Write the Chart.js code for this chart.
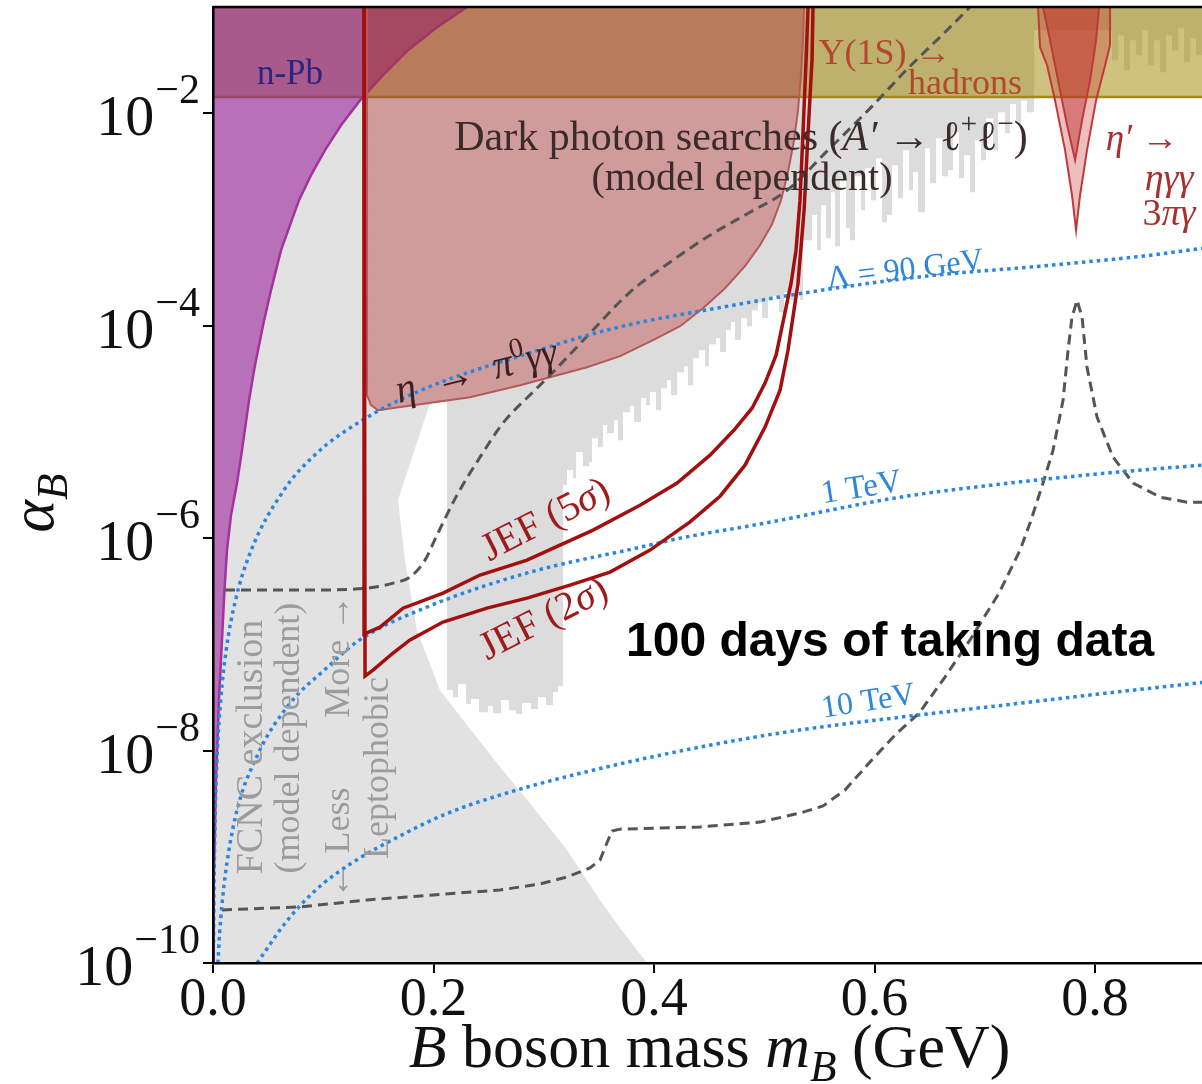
<!DOCTYPE html>
<html>
<head>
<meta charset="utf-8">
<title>B boson coupling limits</title>
<script src="https://cdn.jsdelivr.net/npm/chart.js@4.4.1/dist/chart.umd.min.js"></script>
<style>
  html, body { margin: 0; padding: 0; background: #fff; }
  canvas { display: block; }
</style>
</head>
<body>
<canvas id="plot" width="1202" height="1084"></canvas>
<script>
const SERIF = '"Liberation Serif", "DejaVu Serif", serif';
const SANS = '"Liberation Sans", Arial, sans-serif';

// axis ticks
const massTicks = [0, 0.2, 0.4, 0.6, 0.8];
const couplingTicks = [1e-10, 1e-8, 1e-6, 1e-4, 1e-2];

// n-Pb scattering: edge of the excluded region, [m_B (GeV), alpha_B]
const nPbEdge = [
  [0, 1e-10], [0.00045, 2.04e-10], [0.0009, 6.04e-10], [0.0018, 1.79e-9], [0.0027, 5.27e-9],
  [0.0041, 1.26e-8], [0.0054, 2.99e-8], [0.0077, 8.83e-8], [0.0104, 3.24e-7], [0.0127, 7.71e-7],
  [0.0163, 1.64e-6], [0.0218, 3.3e-6], [0.0263, 6.73e-6], [0.0327, 1.99e-5], [0.0381, 4.25e-5],
  [0.0454, 1.01e-4], [0.0526, 2.16e-4], [0.0617, 5.14e-4], [0.078, 1.52e-3], [0.0889, 2.61e-3],
  [0.1016, 4.49e-3], [0.1161, 7.71e-3], [0.1333, 1.32e-2], [0.1542, 2.28e-2], [0.1769, 3.92e-2],
  [0.2032, 6.44e-2], [0.2304, 0.1]
];

// FCNC exclusion (grey): right-hand boundary, from under eta -> pi0 gamma gamma down to the axis
const fcncEdge = [
  [0.1397, 1.32e-2], [0.1397, 2.22e-5], [0.1433, 1.79e-5], [0.1497, 1.6e-5], [0.1878, 1.82e-5],
  [0.1968, 1.87e-5], [0.1678, 2.28e-6], [0.1741, 6.2e-7], [0.185, 1.36e-7], [0.2059, 3.7e-8],
  [0.2304, 1.74e-8], [0.2603, 7.0e-9], [0.2902, 2.94e-9], [0.3211, 1.16e-9], [0.351, 3.9e-10],
  [0.3737, 1.84e-10], [0.3937, 1e-10]
];

// eta -> pi0 gamma gamma (dark photon searches, model dependent)
const etaPi0Region = [
  [0.1397, 0.1], [0.1397, 2.22e-5], [0.1433, 1.79e-5], [0.1497, 1.6e-5], [0.1878, 1.82e-5],
  [0.2331, 2.12e-5], [0.2785, 2.75e-5], [0.3392, 4.06e-5], [0.3692, 5.16e-5], [0.3991, 7.3e-5],
  [0.4236, 9.89e-5], [0.4444, 1.46e-4], [0.4644, 2.25e-4], [0.4825, 3.63e-4], [0.4961, 5.73e-4],
  [0.507, 9.02e-4], [0.5152, 1.52e-3], [0.5215, 2.79e-3], [0.527, 5.57e-3], [0.5306, 1.07e-2],
  [0.5333, 2.28e-2], [0.5351, 4.86e-2], [0.5361, 0.1]
];

// recast lepton searches (grey streaks): [left edge of streak, lower alpha_B]
const leptonStreaks = [
  [0.2122, 3.71e-8], [0.2177, 3.18e-8], [0.2222, 4.23e-8], [0.2295, 2.74e-8], [0.234, 3.05e-8],
  [0.2413, 2.3e-8], [0.2494, 2.62e-8], [0.254, 2.25e-8], [0.2612, 2.99e-8], [0.2685, 2.4e-8],
  [0.2748, 2.21e-8], [0.2803, 2.8e-8], [0.2884, 2.46e-8], [0.2948, 3.18e-8], [0.302, 2.68e-8],
  [0.3084, 3.56e-8], [0.3129, 4.05e-8],
  [0.3175, 3.16e-6], [0.3211, 4.37e-6], [0.3265, 3.67e-6], [0.3293, 6.45e-6], [0.3356, 4.76e-6],
  [0.341, 5.19e-6], [0.3438, 8.73e-6], [0.3492, 7.18e-6], [0.3537, 1.16e-5], [0.3574, 9.73e-6],
  [0.3637, 1.29e-5], [0.3673, 8.36e-6], [0.3719, 1.53e-5], [0.3782, 1.75e-5], [0.3819, 1.24e-5],
  [0.3882, 2.08e-5], [0.3927, 1.79e-5], [0.3964, 2.37e-5], [0.4018, 1.6e-5], [0.4063, 2.58e-5],
  [0.4118, 3.07e-5], [0.4154, 2.22e-5], [0.4209, 3.65e-5], [0.4272, 4.16e-5], [0.4308, 2.75e-5],
  [0.4354, 4.94e-5], [0.4408, 5.87e-5], [0.4463, 4.16e-5], [0.4499, 6.7e-5], [0.4562, 7.62e-5],
  [0.4599, 5.64e-5], [0.4653, 9.08e-5], [0.4698, 1.08e-4], [0.4735, 7.31e-5], [0.4789, 1.18e-4],
  [0.4844, 9.89e-5], [0.4889, 1.4e-4], [0.4943, 1.66e-4], [0.498, 1.18e-4], [0.5034, 1.74e-4],
  [0.5079, 1.9e-4], [0.5134, 1.34e-4], [0.5179, 2.07e-4], [0.5234, 1.74e-4], [0.5279, 2.4e-4],
  [0.5324, 1.74e-4], [0.5351, 6.38e-4],
  [0.5433, 1.1e-3], [0.5479, 5.14e-4], [0.5515, 1.36e-3], [0.556, 6.67e-4], [0.5605, 1.8e-3],
  [0.5642, 5.6e-4], [0.5687, 2.34e-3], [0.5741, 8.28e-4], [0.5778, 6.38e-4], [0.5823, 2.55e-3],
  [0.5878, 1.22e-3], [0.5914, 3.04e-3], [0.5968, 1.52e-3], [0.6014, 3.77e-3], [0.6068, 9.42e-4],
  [0.6113, 1.1e-3], [0.6159, 3.24e-3], [0.6213, 1.58e-3], [0.6259, 4.49e-3], [0.6313, 1.88e-3],
  [0.6349, 2.79e-3], [0.6395, 1.17e-3], [0.6458, 4.69e-3], [0.6503, 2.19e-3], [0.6558, 5.82e-3],
  [0.6612, 2.55e-3], [0.6667, 2.91e-3], [0.6712, 6.62e-3], [0.6766, 2.44e-3], [0.6812, 4.03e-3],
  [0.6866, 1.8e-3], [0.6912, 5.57e-3], [0.6966, 3.61e-3], [0.7011, 8.97e-3], [0.7075, 4.49e-3],
  [0.712, 1.02e-2], [0.7184, 6.49e-3], [0.7229, 1.22e-2], [0.7283, 7.87e-3], [0.7329, 1.32e-2],
  [0.7383, 1.02e-2], [0.7447, 6.04e-2],
  [0.8154, 3.16e-2], [0.8209, 5.42e-2], [0.8263, 2.54e-2], [0.8317, 4.86e-2], [0.8372, 3.52e-2],
  [0.8426, 6.04e-2], [0.8481, 2.83e-2], [0.8535, 4.86e-2], [0.859, 2.43e-2], [0.8644, 5.42e-2],
  [0.8698, 3.92e-2], [0.8753, 6.31e-2], [0.8807, 3.02e-2], [0.8862, 5.08e-2], [0.8916, 3.52e-2]
];

// Upsilon(1S) -> hadrons bound
const upsilonLimit = 1.42e-2;

// eta' -> eta gamma gamma, 3 pi gamma
const etaPrimeOuter = [
  [0.7483, 0.1], [0.7501, 4.18e-2], [0.7565, 2.83e-2], [0.7637, 1.32e-2], [0.7728, 4.49e-3],
  [0.7791, 1.69e-3], [0.7828, 7.92e-4], [0.7864, 1.69e-3], [0.7927, 4.49e-3], [0.8009, 1.32e-2],
  [0.8091, 2.83e-2], [0.8136, 4.37e-2], [0.8136, 0.1]
];
const etaPrimeInner = [
  [0.7528, 0.1], [0.7592, 4.86e-2], [0.7664, 2.05e-2], [0.7737, 8.59e-3], [0.7819, 3.61e-3],
  [0.7882, 8.59e-3], [0.7955, 2.05e-2], [0.8009, 4.86e-2], [0.8036, 0.1]
];

// JEF projected reach
const jef5sigma = [
  [0.137, 0.1], [0.137, 1.25e-7], [0.1515, 1.45e-7], [0.1723, 2.19e-7], [0.2086, 3.03e-7],
  [0.2422, 4.49e-7], [0.2848, 6.21e-7], [0.3147, 8.59e-7], [0.3447, 1.19e-6], [0.3873, 2.04e-6],
  [0.4209, 3.3e-6], [0.4508, 6.04e-6], [0.4726, 1.04e-5], [0.4889, 1.67e-5], [0.5007, 2.88e-5],
  [0.5107, 5.27e-5], [0.5179, 1.2e-4], [0.5243, 2.51e-4], [0.5288, 5.14e-4], [0.5324, 1.52e-3],
  [0.5351, 6.49e-3], [0.5379, 3.16e-2], [0.5397, 0.1]
];
const jef2sigma = [
  [0.137, 0.1], [0.1379, 5.02e-8], [0.1451, 5.71e-8], [0.1633, 8.28e-8], [0.1787, 1.1e-7],
  [0.2086, 1.62e-7], [0.2485, 2.19e-7], [0.2848, 2.72e-7], [0.3238, 3.61e-7], [0.3601, 4.79e-7],
  [0.3964, 7.71e-7], [0.4327, 1.42e-6], [0.4599, 2.48e-6], [0.4825, 4.86e-6], [0.5007, 1.11e-5],
  [0.5143, 2.47e-5], [0.5215, 5.87e-5], [0.5306, 2.51e-4], [0.5361, 1.22e-3], [0.5397, 6.49e-3],
  [0.5433, 3.16e-2], [0.5442, 0.1]
];

// FCNC bounds for more / less leptophobic couplings (dashed)
const fcncMore = [
  [0.0109, 3.24e-7], [0.0789, 3.24e-7], [0.1397, 3.38e-7], [0.1633, 3.77e-7], [0.1787, 4.3e-7],
  [0.1923, 6.21e-7], [0.2032, 1.07e-6], [0.2213, 2.54e-6], [0.2422, 5.78e-6], [0.263, 1.21e-5],
  [0.2902, 2.37e-5], [0.3057, 3.42e-5], [0.3419, 8.49e-5], [0.3782, 2.07e-4], [0.4145, 3.96e-4],
  [0.4508, 7.11e-4], [0.4871, 1.17e-3], [0.5206, 1.88e-3], [0.5596, 4.69e-3], [0.5959, 1.11e-2],
  [0.6322, 2.77e-2], [0.6639, 5.78e-2], [0.6866, 0.1]
];
const fcncLess = [
  [0.0082, 3.16e-10], [0.0789, 3.37e-10], [0.1397, 3.92e-10], [0.1995, 4.37e-10], [0.2603, 4.87e-10],
  [0.2966, 5.54e-10], [0.3211, 6.45e-10], [0.3419, 7.84e-10], [0.351, 9.31e-10], [0.3565, 1.29e-9],
  [0.3619, 1.75e-9], [0.3691, 1.82e-9], [0.4417, 1.91e-9], [0.4962, 2.12e-9], [0.5324, 2.58e-9],
  [0.5533, 3.01e-9], [0.5732, 4.25e-9], [0.595, 7.62e-9], [0.6186, 1.4e-8], [0.6404, 2.25e-8],
  [0.6639, 4.92e-8], [0.6866, 1.1e-7], [0.7129, 3.03e-7], [0.732, 7.71e-7], [0.741, 1.38e-6],
  [0.7528, 3.3e-6], [0.7619, 6.73e-6], [0.771, 1.99e-5], [0.7755, 5.87e-5], [0.7791, 1.2e-4],
  [0.7837, 1.74e-4], [0.7882, 1.2e-4], [0.7927, 4.06e-5], [0.8018, 1.38e-5], [0.8163, 5.78e-6],
  [0.8345, 3.3e-6], [0.859, 2.43e-6], [0.8834, 2.18e-6], [0.897, 2.18e-6]
];

// anomaly cutoff Lambda (dotted)
const lambda90GeV = [
  [0.0005, 1.55e-10], [0.001, 6.2e-10], [0.002, 2.5e-9], [0.004, 1.0e-8], [0.007, 3.0e-8],
  [0.012, 8.9e-8], [0.02, 2.5e-7], [0.034, 7.4e-7], [0.064, 2.8e-6], [0.094, 6.3e-6],
  [0.134, 1.26e-5], [0.188, 2.45e-5], [0.28, 5.25e-5], [0.37, 9.8e-5], [0.46, 1.48e-4],
  [0.55, 2.14e-4], [0.65, 2.95e-4], [0.75, 3.63e-4], [0.85, 4.6e-4], [0.9, 5.4e-4]
];
const lambda1TeV = [
  [0.0045, 1.0e-10], [0.006, 1.9e-10], [0.01, 5.4e-10], [0.02, 2.3e-9], [0.04, 8.9e-9],
  [0.07, 2.8e-8], [0.1, 5.6e-8], [0.133, 1.1e-7], [0.194, 2.24e-7], [0.285, 4.7e-7],
  [0.385, 8.1e-7], [0.424, 1.0e-6], [0.5, 1.38e-6], [0.62, 2.4e-6], [0.7, 3.1e-6],
  [0.8, 4.0e-6], [0.9, 4.9e-6]
];
const lambda10TeV = [
  [0.04, 1.0e-10], [0.05, 1.41e-10], [0.06, 2.0e-10], [0.079, 3.47e-10], [0.1, 5.6e-10],
  [0.13, 9.3e-10], [0.17, 1.58e-9], [0.21, 2.5e-9], [0.26, 3.8e-9], [0.33, 6.0e-9],
  [0.44, 1.07e-8], [0.53, 1.55e-8], [0.62, 2.04e-8], [0.72, 2.7e-8], [0.81, 3.47e-8],
  [0.9, 4.4e-8]
];

// text placed in data coordinates (centre of the text)
const notes = [
  {x: 0.0698, y: 2.43e-2, parts: [['n-Pb']], size: 35, color: '#2d2380'},
  {x: 0.6095, y: 3.75e-2, parts: [['Υ(1S) →']], size: 36, color: '#b5472f'},
  {x: 0.6821, y: 1.96e-2, parts: [['hadrons']], size: 36, color: '#b5472f'},
  {x: 0.4789, y: 6.08e-3, parts: [['Dark photon searches ('], ['A′', 'i'], [' → ℓ'], ['+', 'sup'], ['ℓ'], ['−', 'sup'], [')']], size: 42, color: '#3b2b2b'},
  {x: 0.4798, y: 2.5e-3, parts: [['(model dependent)']], size: 40, color: '#3b2b2b'},
  {x: 0.8426, y: 5.82e-3, parts: [['η′', 'i'], [' →']], size: 37, color: '#a83030'},
  {x: 0.8671, y: 2.5e-3, parts: [['ηγγ', 'i']], size: 38, color: '#a83030'},
  {x: 0.8671, y: 1.17e-3, parts: [['3'], ['πγ', 'i']], size: 38, color: '#a83030'},
  {x: 0.6277, y: 3.47e-4, parts: [['Λ = 90 GeV']], size: 32, color: '#2f86dc', rot: -7},
  {x: 0.5878, y: 3.08e-6, parts: [['1 TeV']], size: 33, color: '#2f86dc', rot: -9},
  {x: 0.5941, y: 2.99e-8, parts: [['10 TeV']], size: 32, color: '#2f86dc', rot: -9},
  {x: 0.2385, y: 3.8e-5, parts: [['η', 'i'], ['  →  '], ['π', 'i'], ['0', 'sup'], ['γγ', 'i']], size: 40, color: '#3a2020', rot: -14},
  {x: 0.3011, y: 1.54e-6, parts: [['JEF (5'], ['σ', 'i'], [')']], size: 40, color: '#9e1b1b', rot: -27},
  {x: 0.2993, y: 1.8e-7, parts: [['JEF (2'], ['σ', 'i'], [')']], size: 40, color: '#9e1b1b', rot: -27},
  {x: 0.0327, y: 1.08e-8, parts: [['FCNC exclusion']], size: 38, color: '#9c9c9c', rot: -90},
  {x: 0.0671, y: 1.31e-8, parts: [['(model dependent)']], size: 36, color: '#9c9c9c', rot: -90},
  {x: 0.1125, y: 1.35e-9, parts: [['← Less']], size: 36, color: '#9c9c9c', rot: -90},
  {x: 0.1125, y: 7.74e-8, parts: [['More →']], size: 36, color: '#9c9c9c', rot: -90},
  {x: 0.1478, y: 6.84e-9, parts: [['Leptophobic']], size: 36, color: '#9c9c9c', rot: -90},
  {x: 0.6141, y: 1.1e-7, parts: [['100 days of taking data']], size: 48, color: '#000', family: SANS, weight: 'bold'}
];

const toXY = arr => arr.map(([x, y]) => ({x, y}));

// streak outline: floor of the eta -> pi0 gamma gamma region on top, stepped lower edge
function streakOutline() {
  const floor = [[0.2122, 1.99e-5]].concat(etaPi0Region.filter(([x]) => x > 0.2122), [[0.95, 0.1]]);
  const steps = [];
  for (let i = leptonStreaks.length - 1; i >= 0; i--) {
    const [x0, a] = leptonStreaks[i];
    const x1 = i + 1 < leptonStreaks.length ? leptonStreaks[i + 1][0] : 0.95;
    steps.push([x1, a], [x0, a]);
  }
  return floor.concat(steps);
}

function region(points, fill, edge, edgeWidth, order) {
  return {
    data: toXY(points), backgroundColor: fill, borderColor: edge || 'rgba(0,0,0,0)',
    borderWidth: edgeWidth || 0, fill: 'shape', pointRadius: 0, tension: 0, order
  };
}
function curve(points, color, width, dash, order, smooth) {
  return {
    data: toXY(points), borderColor: color, borderWidth: width, borderDash: dash,
    fill: false, pointRadius: 0, tension: 0, order,
    cubicInterpolationMode: smooth ? 'monotone' : 'default'
  };
}

// rich text: parts are [text, style] with style r / i / sup / sub / isub
function layoutRich(ctx, parts, size, family, weight) {
  let width = 0;
  const runs = parts.map(([t, s = 'r']) => {
    const small = s.includes('sub') || s.includes('sup');
    const px = small ? size * 0.7 : size;
    const font = `${s.startsWith('i') ? 'italic ' : ''}${weight || ''} ${px}px ${family}`;
    ctx.font = font;
    const run = {t, font, x: width, dy: s.includes('sub') ? size * 0.22 : s.includes('sup') ? -size * 0.4 : 0};
    width += ctx.measureText(t).width;
    return run;
  });
  return {runs, width};
}
function drawRich(ctx, cx, cy, parts, opt) {
  const {size, family = SERIF, weight = '', color = '#111', rot = 0, align = 'center', middle = true} = opt;
  const {runs, width} = layoutRich(ctx, parts, size, family, weight);
  ctx.save();
  ctx.translate(cx, cy);
  ctx.rotate(rot * Math.PI / 180);
  ctx.fillStyle = color;
  ctx.textAlign = 'left';
  ctx.textBaseline = 'alphabetic';
  const x0 = align === 'center' ? -width / 2 : align === 'right' ? -width : 0;
  const y0 = middle ? size * 0.33 : 0;
  runs.forEach(r => { ctx.font = r.font; ctx.fillText(r.t, x0 + r.x, y0 + r.dy); });
  ctx.restore();
}

const decorations = {
  id: 'decorations',
  afterDraw(chart) {
    const {ctx, chartArea: a, scales: {x, y}} = chart;
    ctx.save();
    // top frame
    ctx.strokeStyle = '#000';
    ctx.lineWidth = 2.5;
    ctx.beginPath();
    ctx.moveTo(a.left, a.top);
    ctx.lineTo(a.right, a.top);
    ctx.stroke();

    ctx.save();
    ctx.beginPath();
    ctx.rect(a.left, a.top, a.right - a.left, a.bottom - a.top);
    ctx.clip();
    notes.forEach(n => drawRich(ctx, x.getPixelForValue(n.x), y.getPixelForValue(n.y), n.parts, n));
    ctx.restore();

    // log tick labels 10^-n
    couplingTicks.forEach(v => {
      const py = y.getPixelForValue(v);
      const exp = '\u2212' + Math.abs(Math.round(Math.log10(v)));
      const right = a.left - 13;
      ctx.fillStyle = '#111';
      ctx.textAlign = 'right';
      ctx.textBaseline = 'alphabetic';
      ctx.font = `42px ${SERIF}`;
      const ew = ctx.measureText(exp).width;
      ctx.fillText(exp, right, py - 10);
      ctx.font = `58px ${SERIF}`;
      ctx.fillText('10', right - ew - 1, py + 22);
    });

    drawRich(ctx, 33, 503, [['α', 'i'], ['B', 'isub']], {size: 62, rot: -90});
    drawRich(ctx, (a.left + a.right) / 2 + 2, 1067,
      [['B', 'i'], [' boson mass '], ['m', 'i'], ['B', 'isub'], [' (GeV)']], {size: 62, middle: false});
    ctx.restore();
  }
};

new Chart(document.getElementById('plot'), {
  type: 'line',
  data: {
    datasets: [
      region(nPbEdge.slice(0, nPbEdge.findIndex(p => p[1] >= 1.3e-2) + 1).concat(fcncEdge), '#e2e2e2', null, 0, 20),
      region(streakOutline(), '#dcdcdc', null, 0, 19),
      region([[0, 0.1], [0, upsilonLimit], [0.95, upsilonLimit], [0.95, 0.1]], 'rgba(159,133,0,0.5)', '#a08a1e', 2.5, 18),
      region(nPbEdge.concat([[0, 0.1]]), 'rgba(146,35,146,0.65)', '#a4329e', 2.5, 17),
      region(etaPi0Region, 'rgba(161,55,55,0.5)', '#b55a5a', 2, 16),
      region(etaPrimeOuter, 'rgba(200,40,40,0.3)', '#be3a3a', 2, 15),
      region(etaPrimeInner, 'rgba(190,40,40,0.45)', '#be3a3a', 2, 14),
      curve(fcncMore, '#555', 3, [10, 6], 13, true),
      curve(fcncLess, '#555', 3, [10, 6], 12, false),
      curve(lambda90GeV, '#2a86df', 3.5, [3.5, 4], 11, true),
      curve(lambda1TeV, '#2a86df', 3.5, [3.5, 4], 10, true),
      curve(lambda10TeV, '#2a86df', 3.5, [3.5, 4], 9, true),
      curve(jef5sigma, '#a20f0f', 3.5, [], 8, false),
      curve(jef2sigma, '#a20f0f', 3.5, [], 7, false)
    ]
  },
  options: {
    responsive: false,
    devicePixelRatio: 1,
    animation: false,
    events: [],
    layout: {padding: {top: 7, right: 0, bottom: 0, left: 0}},
    plugins: {legend: {display: false}, tooltip: {enabled: false}},
    scales: {
      x: {
        type: 'linear',
        min: 0,
        max: 0.897,
        afterBuildTicks: s => { s.ticks = massTicks.map(v => ({value: v})); },
        afterFit: s => { s.height = 121; },
        ticks: {
          callback: v => v.toFixed(1),
          font: {family: SERIF, size: 54},
          color: '#111',
          padding: -5,
          maxRotation: 0
        },
        grid: {drawOnChartArea: false, drawTicks: true, tickLength: 10, color: '#000', lineWidth: 2},
        border: {display: true, color: '#000', width: 2.5, z: 1}
      },
      y: {
        type: 'logarithmic',
        min: 1e-10,
        max: 0.1,
        afterBuildTicks: s => { s.ticks = couplingTicks.map(v => ({value: v})); },
        afterFit: s => { s.width = 213; },
        ticks: {callback: () => '', font: {size: 1}, padding: 0},
        grid: {drawOnChartArea: false, drawTicks: true, tickLength: 10, color: '#000', lineWidth: 2},
        border: {display: true, color: '#000', width: 2.5, z: 1}
      }
    }
  },
  plugins: [decorations]
});
</script>
</body>
</html>
